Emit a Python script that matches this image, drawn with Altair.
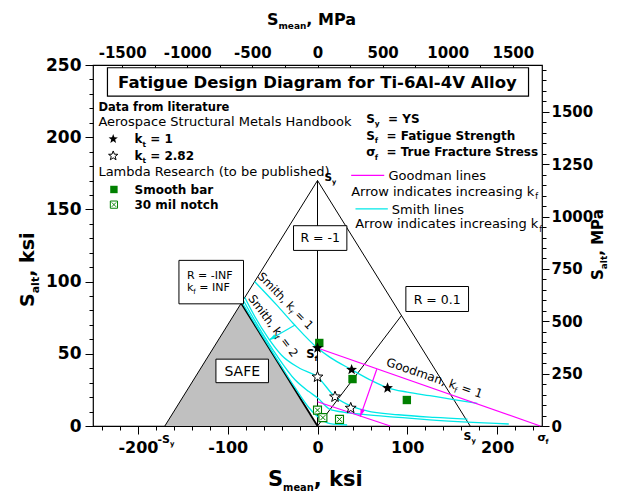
import math
import altair as alt
import pandas as pd

# ------------------------------------------------------------------
# Material values (ksi)
# ------------------------------------------------------------------
KSI_TO_MPA = 6.894757
S_Y = 170.0          # yield strength
S_F = 54.0           # fatigue strength, smooth
SIGMA_F = 248.0      # true fracture stress
S_F_NOTCH = 16.8     # intercept of the notched Goodman line
GOODMAN_NOTCH_END = 81.0
R_RATIO = 0.1

# Smith lines (S_mean, S_alt)
smith_kt1_x = [-70, -45, -27, 0, 14, 38, 60, 79, 100, 125, 150, 178]
smith_kt1_y = [100, 83.5, 71, 54, 47.5, 39, 31.5, 26.3, 23.5, 21, 18.5, 15.6]
smith_kt2_x = [-81, -70, -55, -40, -20, 0, 19, 35, 55, 90, 130, 167]
smith_kt2_y = [89, 76, 61, 49, 40, 34, 20.5, 14.5, 10.5, 7.8, 6, 4.8]
smith_kt3_x = [-83, -65, -45, -25, -10, 0, 14, 30, 51, 90, 125, 213]
smith_kt3_y = [87.5, 68, 48.5, 32, 24, 19.5, 11.5, 9.5, 8, 6, 4.3, 1.4]
smith_kt4_x = [-84, -65, -45, -25, -10, 0, 14, 33]
smith_kt4_y = [85.5, 66, 46, 26.5, 13, 6.5, 1.6, 0.7]

# Arrows showing increasing k_f
smith_arrow_x = [-25, -54]
smith_arrow_y = [70, 59.5]
goodman_arrow_x = [66, 47.6]
goodman_arrow_y = [39.3, 6.5]

# Test data
lit_kt1_x = [0, 38, 78]
lit_kt1_y = [54, 39, 26.3]
lit_kt282_x = [0, 19.5, 37]
lit_kt282_y = [34, 20.2, 12.4]
smooth_x = [2, 39, 99.5]
smooth_y = [57.5, 32.5, 18]
notch_x = [0, 6, 24.5]
notch_y = [11, 5.8, 4.6]

# Axis ticks
ksi_x_ticks = list(range(-240, 241, 20))
ksi_y_ticks = list(range(0, 251, 10))
mpa_x_ticks = list(range(-1500, 1501, 250))
mpa_y_ticks = list(range(0, 1701, 50))

# ------------------------------------------------------------------
# Layout / style
# ------------------------------------------------------------------
W, H = 449, 361
X_DOM = [-250, 250]
Y_DOM = [0, 250]
FONT = "DejaVu Sans"
CYAN = "#00e8e8"
MAGENTA = "#ff00ff"
GREEN = "#008000"
GRAY = "#c0c0c0"

PX_PER_X = W / (X_DOM[1] - X_DOM[0])
PX_PER_Y = H / (Y_DOM[1] - Y_DOM[0])

xs = alt.Scale(domain=X_DOM, nice=False, zero=False)
ys = alt.Scale(domain=Y_DOM, nice=False, zero=False)
ANCHOR = pd.DataFrame({"a": [0]})


def enc_x(f="x"):
    return alt.X(f"{f}:Q", scale=xs, axis=None)


def enc_y(f="y"):
    return alt.Y(f"{f}:Q", scale=ys, axis=None)


def path(xv, yv, color, width=1.0, interp="linear"):
    df = pd.DataFrame({"x": xv, "y": yv, "i": list(range(len(xv)))})
    return alt.Chart(df).mark_line(color=color, strokeWidth=width, interpolate=interp,
                                   clip=False).encode(x=enc_x(), y=enc_y(), order="i:Q")


def box(x0, x1, y0, y1, width=1.0):
    df = pd.DataFrame({"x": [x0], "x2": [x1], "y": [y0], "y2": [y1]})
    return alt.Chart(df).mark_rect(fill="white", stroke="black", strokeWidth=width).encode(
        x=enc_x(), x2="x2:Q", y=enc_y(), y2="y2:Q")


def star_path(inner=0.42):
    pts = []
    for k in range(10):
        r = 1.0 if k % 2 == 0 else inner
        a = math.radians(-90 + 36 * k)
        pts.append(f"{r * math.cos(a):.3f},{r * math.sin(a):.3f}")
    return "M" + "L".join(pts) + "Z"


STAR = star_path()
CROSS = "M-0.62,-0.62L0.62,0.62M0.62,-0.62L-0.62,0.62"
HEAD = "M0,0L0.45,1.5L-0.45,1.5Z"


def points(xv, yv, shape, size, fill=None, stroke=None, sw=1.0):
    df = pd.DataFrame({"x": xv, "y": yv})
    props = dict(shape=shape, size=size, opacity=1, strokeWidth=sw, clip=False)
    if fill is not None:
        props.update(filled=True, fill=fill)
    else:
        props.update(filled=False)
    if stroke is not None:
        props["stroke"] = stroke
    else:
        props["strokeWidth"] = 0
    return alt.Chart(df).mark_point(**props).encode(x=enc_x(), y=enc_y())


def heading(x0, y0, x1, y1):
    dx = (x1 - x0) * PX_PER_X
    dy = -(y1 - y0) * PX_PER_Y
    return math.degrees(math.atan2(dx, -dy)) % 360


def arrow(xv, yv, color):
    head = pd.DataFrame({"x": [xv[1]], "y": [yv[1]]})
    ang = heading(xv[0], yv[0], xv[1], yv[1])
    return [path(xv, yv, color, 1.2),
            alt.Chart(head).mark_point(shape=HEAD, size=100, filled=True, fill=color,
                                       strokeWidth=0, angle=round(ang, 1), opacity=1).encode(
                x=enc_x(), y=enc_y())]


# DejaVu Sans advance widths (em)
W_NORMAL = {' ': .318, '(': .390, ')': .390, ',': .318, '-': .361, '.': .318, '=': .838,
            'A': .684, 'B': .686, 'C': .698, 'D': .770, 'E': .632, 'F': .575, 'G': .775,
            'H': .752, 'I': .295, 'K': .656, 'L': .557, 'M': .863, 'N': .748, 'O': .787,
            'P': .603, 'R': .695, 'S': .635, 'T': .611, 'V': .684, 'Y': .611,
            'a': .613, 'b': .635, 'c': .550, 'd': .635, 'e': .615, 'f': .352, 'g': .635,
            'h': .634, 'i': .278, 'k': .579, 'l': .278, 'm': .974, 'n': .634, 'o': .612,
            'p': .635, 'r': .411, 's': .521, 't': .392, 'u': .634, 'v': .592, 'w': .818,
            'y': .592, 'σ': .637}
W_BOLD = {' ': .348, '(': .457, ')': .457, ',': .380, '-': .415, '.': .380, '=': .838,
          'A': .774, 'D': .830, 'F': .683, 'M': .995, 'P': .733, 'R': .770, 'S': .720,
          'T': .682, 'V': .774, 'Y': .724,
          'a': .675, 'b': .716, 'c': .593, 'd': .716, 'e': .678, 'f': .435, 'g': .716,
          'h': .712, 'i': .343, 'k': .665, 'l': .343, 'm': 1.042, 'n': .712, 'o': .687,
          'p': .716, 'r': .493, 's': .595, 't': .478, 'u': .712, 'v': .652, 'w': .924,
          'y': .652, 'σ': .720}
for d in "0123456789":
    W_NORMAL[d] = .636
    W_BOLD[d] = .696


def text_width(s, size, bold):
    table = W_BOLD if bold else W_NORMAL
    default = .70 if bold else .62
    return sum(table.get(ch, default) for ch in s) * size


def one_text(s, x, y, size, bold, angle, dx, dy, color, pixel):
    props = dict(text=s, font=FONT, fontSize=round(size, 2),
                 fontWeight="bold" if bold else "normal", align="left",
                 baseline="alphabetic", color=color, dx=round(dx, 2), dy=round(dy, 2))
    if angle:
        props["angle"] = angle
    if pixel:
        return alt.Chart(ANCHOR).mark_text(**props).encode(x=alt.value(x), y=alt.value(y))
    df = pd.DataFrame({"x": [x], "y": [y]})
    return alt.Chart(df).mark_text(**props).encode(x=enc_x(), y=enc_y())


def rich(parts, x, y, size, bold=False, align="left", angle=0, color="black",
         sub=0.62, pixel=False):
    """Text run with subscripts; parts starting with '_' are subscripts.
    (x, y) is the left / centre point of the capital height.
    Leading blanks of a run are turned into an offset (SVG drops them)."""
    runs = []
    for p in parts:
        if p.startswith("_"):
            runs.append((p[1:], size * sub, True))
        else:
            runs.append((p, size, False))
    widths = [text_width(t, s, bold) for t, s, _ in runs]
    total = sum(widths)
    off = {"left": 0.0, "center": -total / 2, "right": -total}[align]
    base = 0.365 * size
    out = []
    for (t, s, is_sub), w in zip(runs, widths):
        lead = len(t) - len(t.lstrip(" "))
        lead_w = text_width(" " * lead, s, bold)
        dy = base + (0.27 * size if is_sub else 0.0)
        out.append(one_text(t.strip(" "), x, y, s, bold, angle, off + lead_w, dy, color, pixel))
        off += w
    return out


# ------------------------------------------------------------------
# Axes: ksi on bottom / left, MPa on top / right (same scales)
# ------------------------------------------------------------------
axis_style = dict(labelFont=FONT, labelFontWeight="bold", labelColor="black",
                  tickColor="black", tickWidth=1, domain=False, grid=False, title=None,
                  labelOverlap=False, labelFlush=False)
K = KSI_TO_MPA
x_axis = alt.Axis(orient="bottom", values=ksi_x_ticks,
                  labelExpr="datum.value % 100 == 0 ? toString(datum.value) : ''",
                  tickSize={"condition": {"test": "datum.value % 100 == 0", "value": 8}, "value": 4},
                  labelFontSize=16, labelPadding=5, **axis_style)
y_axis = alt.Axis(orient="left", values=ksi_y_ticks,
                  labelExpr="datum.value % 50 == 0 ? toString(datum.value) : ''",
                  tickSize={"condition": {"test": "datum.value % 50 == 0", "value": 8}, "value": 4},
                  labelFontSize=17, labelPadding=4, **axis_style)
top_axis = alt.Axis(orient="top", values=[v / K for v in mpa_x_ticks],
                    labelExpr=f"round(datum.value * {K}) % 500 == 0 ? toString(round(datum.value * {K})) : ''",
                    tickSize=6, offset=-6, labelFontSize=15, labelPadding=5, **axis_style)
right_axis = alt.Axis(orient="right", values=[v / K for v in mpa_y_ticks],
                      labelExpr=f"round(datum.value * {K}) % 250 == 0 ? toString(round(datum.value * {K})) : ''",
                      tickSize={"condition": {"test": f"round(datum.value * {K}) % 250 == 0", "value": 7},
                                "value": 4},
                      labelFontSize=15, labelPadding=2, **axis_style)

origin = pd.DataFrame({"x": [0.0], "y": [0.0]})
layers = [
    alt.Chart(origin).mark_point(opacity=0).encode(
        x=alt.X("x:Q", scale=xs, axis=x_axis), y=alt.Y("y:Q", scale=ys, axis=y_axis)),
    alt.Chart(origin).mark_point(opacity=0).encode(
        x=alt.X("x:Q", scale=xs, axis=top_axis), y=alt.Y("y:Q", scale=ys, axis=right_axis)),
]

# SAFE region
safe = pd.DataFrame({"x": [-S_Y, -S_Y / 2, 0], "y": [0, S_Y / 2, 0], "y0": [0, 0, 0]})
layers.append(alt.Chart(safe).mark_area(color=GRAY, opacity=1).encode(
    x=enc_x(), y=enc_y(), y2="y0:Q"))

# Yield envelope and stress-ratio lines
layers.append(path([-S_Y, 0, S_Y], [0, S_Y, 0], "black", 1.0))
layers.append(path([0, 0], [0, S_Y], "black", 1.0))
t = (1 - R_RATIO) / (1 + R_RATIO)
x_end = S_Y / (1 + t)
layers.append(path([0, x_end], [0, x_end * t], "black", 1.0))
layers.append(path([-S_Y / 2, 0], [S_Y / 2, 0], "black", 1.8))

# Smith lines
for sx, sy_ in [(smith_kt1_x, smith_kt1_y), (smith_kt2_x, smith_kt2_y),
                (smith_kt3_x, smith_kt3_y), (smith_kt4_x, smith_kt4_y)]:
    layers.append(path(sx, sy_, CYAN, 1.3, "monotone"))

# Goodman lines
layers.append(path([0, SIGMA_F], [S_F, 0], MAGENTA, 1.2))
layers.append(path([0, GOODMAN_NOTCH_END], [S_F_NOTCH, 0], MAGENTA, 1.2))

layers += arrow(smith_arrow_x, smith_arrow_y, CYAN)
layers += arrow(goodman_arrow_x, goodman_arrow_y, MAGENTA)

# Boxes
layers.append(box(-233.9, 235, 228.4, 248.1, 1.2))
layers.append(box(-26.7, 32.7, 121.6, 138.7))
layers.append(box(98.4, 168.2, 79.3, 96.6))
layers.append(box(-154.3, -82.4, 84.6, 114.7))
layers.append(box(-113.1, -54.6, 30, 46.3))

# Data markers
layers.append(points(smooth_x, smooth_y, "square", 70, fill=GREEN))
layers.append(points(notch_x, notch_y, "square", 64, fill="white", stroke=GREEN, sw=1.1))
layers.append(points(notch_x, notch_y, CROSS, 64, stroke=GREEN, sw=1.0))
layers.append(points(lit_kt1_x, lit_kt1_y, STAR, 130, fill="black"))
layers.append(points(lit_kt282_x, lit_kt282_y, STAR, 130, fill="white", stroke="black", sw=1.0))

# Legend markers and lines
layers.append(points([-227.5], [198.8], STAR, 95, fill="black"))
layers.append(points([-227.5], [187.1], STAR, 95, fill="white", stroke="black", sw=1.0))
layers.append(points([-226.7], [163.8], "square", 55, fill=GREEN))
layers.append(points([-226.7], [153.3], "square", 52, fill="white", stroke=GREEN, sw=1.0))
layers.append(points([-226.7], [153.3], CROSS, 52, stroke=GREEN, sw=0.9))
layers.append(path([37.5, 74.3], [173.5, 173.5], MAGENTA, 1.2))
layers.append(path([42.3, 78.3], [150.3, 150.3], CYAN, 1.3))

# Title and legend text
layers += rich(["Fatigue Design Diagram for Ti-6Al-4V Alloy"], 0.5, 238.3, 16.5,
               bold=True, align="center")
layers += rich(["Data from literature"], -243.9, 220.9, 11.5, bold=True)
layers += rich(["Aerospace Structural Metals Handbook"], -244, 211.2, 13)
layers += rich(["k", "_t", " = 1"], -203.8, 198.8, 12, bold=True)
layers += rich(["k", "_t", " = 2.82"], -203.8, 187.1, 12, bold=True)
layers += rich(["Lambda Research (to be published)"], -244, 176.2, 13)
layers += rich(["Smooth bar"], -203.8, 163.8, 12, bold=True)
layers += rich(["30 mil notch"], -203.8, 153.3, 12, bold=True)

layers += rich(["S", "_y", "  = YS"], 54.2, 212.8, 12, bold=True)
layers += rich(["S", "_f", "  = Fatigue Strength"], 54.2, 201.2, 12, bold=True)
layers += rich(["σ", "_f", "  = True Fracture Stress"], 54.2, 189.8, 12, bold=True)
layers += rich(["Goodman lines"], 79.1, 173.5, 13)
layers += rich(["Arrow indicates increasing k", "_f"], 37.5, 162.7, 13)
layers += rich(["Smith lines"], 82.8, 150.3, 13)
layers += rich(["Arrow indicates increasing k", "_f"], 42, 140.2, 13)

# Labels inside the diagram
layers += rich(["Smith, k", "_f", " = 1"], -35.2, 86.8, 11.5, align="center", angle=46)
layers += rich(["Smith, k", "_f", " = 2"], -49, 69.5, 11.5, align="center", angle=53)
layers += rich(["Goodman, k", "_f", " = 1"], 130.5, 33.4, 12, align="center", angle=19)
layers += rich(["R = -1"], 3, 130.3, 12.5, align="center")
layers += rich(["R = 0.1"], 133.3, 87.8, 12.5, align="center")
layers += rich(["SAFE"], -83.9, 38.1, 14, align="center")
layers += rich(["R = -INF"], -145.4, 104.6, 11)
layers += rich(["k", "_f", " = INF"], -145.4, 96, 11)
layers += rich(["S", "_y"], 7.8, 172.4, 10.5, bold=True)
layers += rich(["S", "_f"], -12.6, 50, 11.5, bold=True)
layers += rich(["-S", "_y"], -178.2, -9.0, 11, bold=True)
layers += rich(["S", "_y"], 162.6, -6.6, 11, bold=True)
layers += rich(["σ", "_f"], 245, -7.4, 11, bold=True)

# Axis titles
layers += rich(["S", "_mean", ", ksi"], 175, 413, 21, bold=True, sub=0.47, pixel=True)
layers += rich(["S", "_mean", ", MPa"], 174, -46, 16, bold=True, sub=0.56, pixel=True)
layers += rich(["S", "_alt", ", ksi"], -66, 242, 19, bold=True, angle=270, sub=0.58, pixel=True)
layers += rich(["S", "_alt", ", MPa"], 504.5, 215, 15, bold=True, angle=270, sub=0.6, pixel=True)

chart = alt.layer(*layers).resolve_axis(x="independent", y="independent").properties(
    width=W, height=H,
    padding={"left": 93, "top": 65, "right": 78, "bottom": 65},
    autosize=alt.AutoSizeParams(type="none"),
    background="white",
).configure(font=FONT).configure_view(stroke="black", strokeWidth=1.2)

chart.save("out.html", embed_options={"renderer": "svg", "actions": False})
